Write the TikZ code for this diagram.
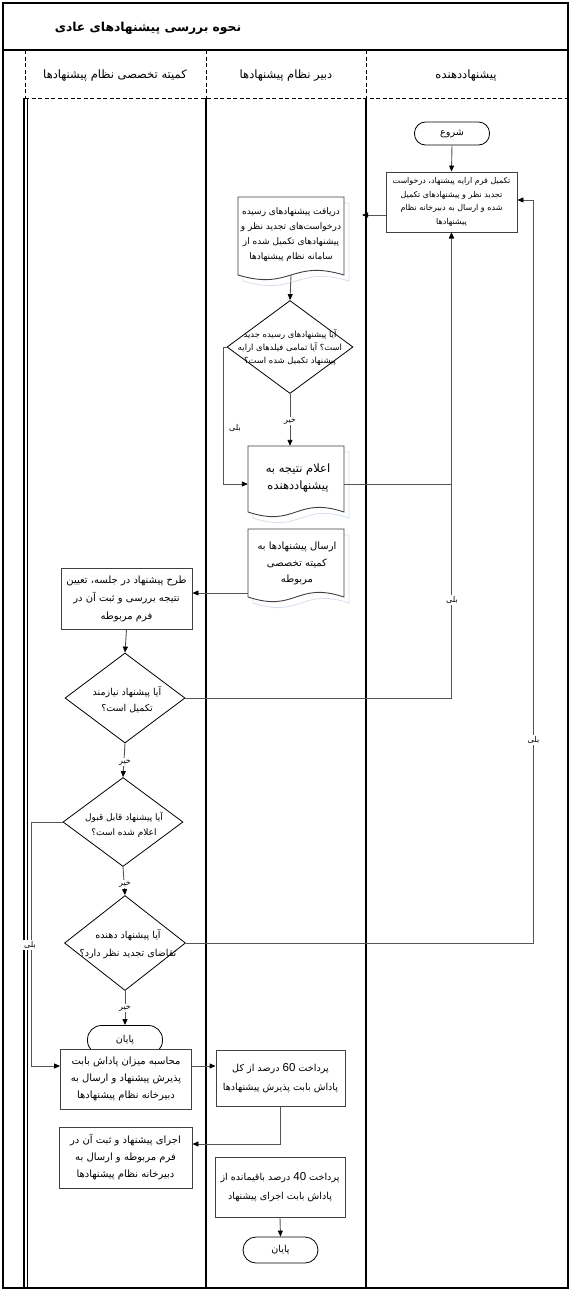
\documentclass[tikz,border=0pt]{standalone}
\usepackage{fontspec}
\usetikzlibrary{arrows.meta,calc,shapes.geometric}
\TeXXeTstate=1
\newfontfamily\arabicfont[Script=Arabic]{DejaVu Sans}
\newfontfamily\latinfont{Liberation Sans}
\newcommand\FAtxt[1]{\beginR #1\endR}
\newcommand\numL[1]{\beginL{\latinfont\fontsize{11.5}{12}\selectfont #1}\endL}
\definecolor{nodeline}{RGB}{64,64,64}
\definecolor{connc}{RGB}{85,85,85}
\definecolor{shad}{RGB}{214,224,236}
\newcommand\docshape[4]{%
  \draw[draw=shad, line width=0.8pt] ({#1+5},{#2+6}) -- ({#3+5},{#2+6}) -- ({#3+5},{#4+6})
     .. controls ({(#1+#3)/2+5},{#4-10}) and ({(#1+#3)/2+5},{#4+22}) .. ({#1+5},{#4+6}) -- cycle;
  \draw[draw=nodeline, line width=0.9pt, fill=white] (#1,#2) -- (#3,#2) -- (#3,#4)
     .. controls ({(#1+#3)/2},{#4-16}) and ({(#1+#3)/2},{#4+16}) .. (#1,#4) -- cycle;}
\tikzset{
  lane/.style={line width=1.6pt, black},
  outerframe/.style={line width=2.4pt, black},
  hdash/.style={line width=0.8pt, black, dash pattern=on 4pt off 2.5pt},
  procbox/.style={draw=nodeline, line width=0.9pt, fill=white, rectangle, align=center, inner sep=0pt},
  termbox/.style={draw=black, line width=0.8pt, fill=white, rectangle, rounded corners=11pt, inner sep=0pt, font=\arabicfont\fontsize{9.6}{11}\selectfont},
  diabox/.style={draw=black, line width=0.8pt, fill=white, diamond, inner sep=0pt},
  ptext/.style={align=center, inner sep=0pt},
  docnode/.style={rectangle, inner sep=0pt, align=center},
  connl/.style={draw=connc, line width=0.9pt},
  arr/.style={connl, -{Triangle[length=6pt,width=5pt,color=black]}},
  lbl/.style={fill=white, inner sep=1pt, font=\arabicfont\fontsize{8}{9}\selectfont},
  hdr/.style={font=\arabicfont\fontsize{11.5}{13}\selectfont},
}
\begin{document}
\begin{tikzpicture}[x=1pt,y=-1pt]
\useasboundingbox (0,0) rectangle (573,1291);
\fill[white] (0,0) rectangle (573,1291);
% frame and lanes
\draw[lane] (3,50) -- (568,50);
\draw[hdash] (25,98) -- (568,98);
\draw[hdash] (25,50) -- (25,98);
\draw[hdash] (206,50) -- (206,98);
\draw[hdash] (366,50) -- (366,98);
\draw[lane] (24,98) -- (24,1288);
\draw[line width=0.6pt] (27,98) -- (27,1288);
\draw[lane] (206,98) -- (206,1288);
\draw[lane] (366,98) -- (366,1288);
\draw[outerframe] (3,3) rectangle (568,1288);
% title and headers
\node[font=\arabicfont\bfseries\fontsize{12.3}{14}\selectfont] (title) at (148,28) {\FAtxt{نحوه بررسی پیشنهادهای عادی}};
\node[hdr] (h1) at (115,76) {\FAtxt{کمیته تخصصی نظام پیشنهادها}};
\node[hdr] (h2) at (286,76) {\FAtxt{دبیر نظام پیشنهادها}};
\node[hdr] (h3) at (466,76) {\FAtxt{پیشنهاددهنده}};
% document shapes
\docshape{238}{197}{344}{275}
\docshape{248}{446}{344}{512}
\docshape{248}{529}{344}{597}
% nodes
\node[termbox, minimum width=75pt, minimum height=23pt] (start) at (452,133.5) {\FAtxt{شروع}};
\node[procbox, minimum width=131pt, minimum height=60pt, font=\arabicfont\fontsize{8}{13.7}\selectfont] (p1) at (451.5,202)
  {\FAtxt{تکمیل فرم ارایه پیشنهاد، درخواست}\\\FAtxt{تجدید نظر و پیشنهادهای تکمیل}\\\FAtxt{شده و ارسال به دبیرخانه نظام}\\\FAtxt{پیشنهادها}};
\node[docnode, minimum width=106pt, minimum height=78pt] (doc1) at (291,236) {};
\node[ptext, font=\arabicfont\fontsize{9}{15}\selectfont] (doc1t) at (291,235)
  {\FAtxt{دریافت پیشنهادهای رسیده}\\\FAtxt{درخواست‌های تجدید نظر و}\\\FAtxt{پیشنهادهای تکمیل شده از}\\\FAtxt{سامانه نظام پیشنهادها}};
\node[diabox, minimum width=126pt, minimum height=93pt] (d1) at (290,347) {};
\node[ptext, font=\arabicfont\fontsize{8.4}{13}\selectfont] (d1t) at (290,348)
  {\FAtxt{آیا پیشنهادهای رسیده جدید}\\\FAtxt{است؟ آیا تمامی فیلدهای ارایه}\\\FAtxt{پیشنهاد تکمیل شده است؟}};
\node[docnode, minimum width=96pt, minimum height=66pt] (doc2) at (296,479) {};
\node[ptext, font=\arabicfont\fontsize{11.5}{17}\selectfont] (doc2t) at (298,478.5)
  {\FAtxt{اعلام نتیجه به}\\\FAtxt{پیشنهاددهنده}};
\node[docnode, minimum width=96pt, minimum height=68pt] (doc3) at (296,563) {};
\node[ptext, font=\arabicfont\fontsize{10}{16.5}\selectfont] (doc3t) at (297,563.5)
  {\FAtxt{ارسال پیشنهادها به}\\\FAtxt{کمیته تخصصی}\\\FAtxt{مربوطه}};
\node[procbox, minimum width=131pt, minimum height=61pt, font=\arabicfont\fontsize{10}{18}\selectfont] (p2) at (126.5,598.5)
  {\FAtxt{طرح پیشنهاد در جلسه، تعیین}\\\FAtxt{نتیجه بررسی و ثبت آن در}\\\FAtxt{فرم مربوطه}};
\node[diabox, minimum width=120pt, minimum height=90pt] (d2) at (125,698) {};
\node[ptext, font=\arabicfont\fontsize{9.5}{16}\selectfont] (d2t) at (127,700)
  {\FAtxt{آیا پیشنهاد نیازمند}\\\FAtxt{تکمیل است؟}};
\node[diabox, minimum width=120pt, minimum height=89pt] (d3) at (123,822) {};
\node[ptext, font=\arabicfont\fontsize{9}{15}\selectfont] (d3t) at (124,825)
  {\FAtxt{آیا پیشنهاد قابل قبول}\\\FAtxt{اعلام شده است؟}};
\node[diabox, minimum width=121pt, minimum height=95pt] (d4) at (125,943) {};
\node[ptext, font=\arabicfont\fontsize{9.6}{18}\selectfont] (d4t) at (128,944)
  {\FAtxt{آیا پیشنهاد دهنده}\\\FAtxt{تقاضای تجدید نظر دارد؟}};
\node[termbox, minimum width=75pt, minimum height=29pt, rounded corners=14pt] (end1) at (125,1040) {\FAtxt{پایان}};
\node[procbox, minimum width=131pt, minimum height=60pt, font=\arabicfont\fontsize{10}{17}\selectfont] (p3) at (126,1079)
  {\FAtxt{محاسبه میزان پاداش بابت}\\\FAtxt{پذیرش پیشنهاد و ارسال به}\\\FAtxt{دبیرخانه نظام پیشنهادها}};
\node[procbox, minimum width=129pt, minimum height=56pt, font=\arabicfont\fontsize{9.6}{19}\selectfont] (p4) at (280.5,1078)
  {\FAtxt{پرداخت \numL{60} درصد از کل}\\\FAtxt{پاداش بابت پذیرش پیشنهادها}};
\node[procbox, minimum width=133pt, minimum height=61pt, font=\arabicfont\fontsize{10}{17}\selectfont] (p5) at (125.5,1157.5)
  {\FAtxt{اجرای پیشنهاد و ثبت آن در}\\\FAtxt{فرم مربوطه  و ارسال به}\\\FAtxt{دبیرخانه نظام پیشنهادها}};
\node[procbox, minimum width=130pt, minimum height=60pt, font=\arabicfont\fontsize{9.6}{19}\selectfont] (p6) at (280,1187)
  {\FAtxt{پرداخت \numL{40} درصد باقیمانده از}\\\FAtxt{پاداش بابت اجرای پیشنهاد}};
\node[termbox, minimum width=75pt, minimum height=26pt, rounded corners=13pt] (end2) at (280.5,1250) {\FAtxt{پایان}};
% connectors
\coordinate (c1) at (362,215);
\draw[arr] (start.south) -- (p1.north);
\draw[arr] ([yshift=-13pt]p1.west) -- (c1);
\draw[arr] (doc1.south) -- (d1.north);
\draw[arr] (d1.south) -- (d1.south |- doc2.north);
\draw[arr] (d1.west) -- ++(-3,0) |- ([yshift=-5pt]doc2.west);
\draw[arr] ([yshift=-5pt]doc2.east) -| (p1.south);
\draw[arr] ([yshift=-30pt]doc3.west) coordinate (t1) -- (t1 -| p2.east);
\draw[arr] (p2.south) -- (d2.north);
\draw[arr] (d2.east) -| (p1.south);
\draw[arr] (d2.south) -- (d3.north);
\draw[arr] (d3.south) -- (d4.north);
\draw[arr] (d3.west) -- ++(-31,0) |- ([yshift=13pt]p3.west);
\draw[arr] (d4.east) -- ++(348,0) |- ([yshift=2pt]p1.east);
\draw[arr] (d4.south) -- (end1.north);
\draw[arr] ([yshift=13pt]p3.east) coordinate (t2) -- (t2 -| p4.west);
\draw[arr] (p4.south) |- ([yshift=13.5pt]p5.east);
\draw[arr] (p6.south) -- (end2.north);
% labels
\node[lbl] (l1) at (290,421) {\FAtxt{خیر}};
\node[lbl, fill=none] (l2) at (235,428) {\FAtxt{بلی}};
\node[lbl] (l3) at (452,600) {\FAtxt{بلی}};
\node[lbl] (l4) at (533.5,740) {\FAtxt{بلی}};
\node[lbl] (l5) at (125,762) {\FAtxt{خیر}};
\node[lbl] (l6) at (125,884) {\FAtxt{خیر}};
\node[lbl] (l7) at (30,945) {\FAtxt{بلی}};
\node[lbl] (l8) at (125,1008) {\FAtxt{خیر}};
\end{tikzpicture}
\end{document}
